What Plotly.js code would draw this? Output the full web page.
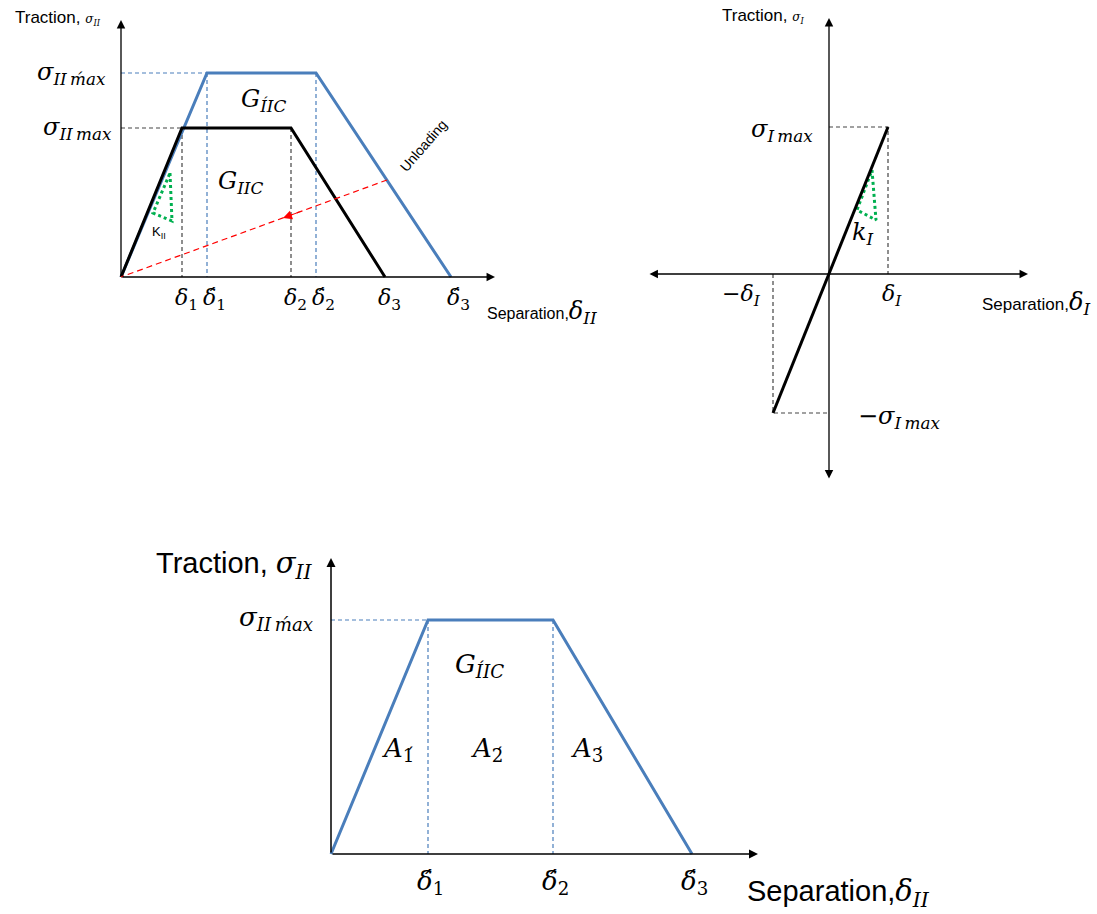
<!DOCTYPE html>
<html><head><meta charset="utf-8">
<script src="https://cdn.plot.ly/plotly-3.0.1.min.js"></script>
<style>html,body{margin:0;padding:0;background:#fff}</style>
</head><body><div id="chart" style="width:1097px;height:914px"></div>
<script>
// ---------- Panel A: mode II traction–separation (original and modified) ----------
const sepII   = [0, 61, 170, 264];   // 0, δ1, δ2, δ3
const tracII  = [0, 149, 149, 0];    // σII max plateau
const sepIIp  = [0, 86, 195, 330];   // 0, δ1', δ2', δ3'
const tracIIp = [0, 204, 204, 0];    // σ'II max plateau
const unloadSep  = [266, 0];
const unloadTrac = [97, 0];
const kIITriSep  = [49, 51, 32, 49];
const kIITriTrac = [104, 56, 64, 104];
const tickValsA  = [61, 86, 170, 195, 264, 330];
const tickNumA   = ['1', '1', '2', '2', '3', '3'];
const tickPrimeA = [false, true, false, true, false, true];

// ---------- Panel B: mode I linear law ----------
const sepI  = [-56, 59];     // −δI, δI
const tracI = [-139, 147];   // −σI max, σI max
const kITriSep  = [43, 47, 28, 43];
const kITriTrac = [104, 54, 64, 104];

// ---------- Panel C: modified mode II law ----------
const sepC  = [0, 97, 222, 361];   // 0, δ1', δ2', δ3'
const tracC = [0, 234, 234, 0];    // σ'II max
const areaLabels = ['1', '2', '3'];

const BLUE = '#4a7ebb', BLACK = '#000', GUIDE = '#444', GREEN = '#00b050';
const SANS = 'Liberation Sans, Arial, sans-serif';
const MATH = 'DejaVu Serif, serif';
const TH = '\u2009', AC = '\u0301';

function line(x, y, ax, color, width, dash) {
  return {x, y, xaxis: 'x' + ax, yaxis: 'y' + ax, mode: 'lines', hoverinfo: 'skip',
          line: {color, width, dash: dash || 'solid'}};
}
const GD = '4px,3px';
function guideH(xv, yv, ax, color) { return line([0, xv], [yv, yv], ax, color, 1.2, GD); }
function guideV(xv, yv, ax, color) { return line([xv, xv], [yv, 0], ax, color, 1.2, GD); }

const traces = [
  // Panel A
  guideH(sepIIp[1], tracIIp[1], '', BLUE),
  guideV(sepIIp[1], tracIIp[1], '', BLUE),
  guideV(sepIIp[2], tracIIp[2], '', BLUE),
  guideH(sepII[1], tracII[1], '', GUIDE),
  guideV(sepII[1], tracII[1], '', GUIDE),
  guideV(sepII[2], tracII[2], '', GUIDE),
  line(sepIIp, tracIIp, '', BLUE, 3),
  line(kIITriSep, kIITriTrac, '', GREEN, 3, 'dot'),
  line(sepII, tracII, '', BLACK, 3),
  line(unloadSep, unloadTrac, '', 'red', 1.2, '6px,4px'),
  // Panel B
  line([0, sepI[1], sepI[1]], [tracI[1], tracI[1], 0], '2', GUIDE, 1.2, GD),
  line([sepI[0], sepI[0], 0], [0, tracI[0], tracI[0]], '2', GUIDE, 1.2, GD),
  line(kITriSep, kITriTrac, '2', GREEN, 3, 'dot'),
  line(sepI, tracI, '2', BLACK, 3),
  // Panel C
  guideH(sepC[1], tracC[1], '3', BLUE),
  guideV(sepC[1], tracC[1], '3', BLUE),
  guideV(sepC[2], tracC[2], '3', BLUE),
  line(sepC, tracC, '3', BLUE, 3),
];

function arrow(ax, x, y, tx, ty, opts) {
  return Object.assign({xref: 'x' + ax, yref: 'y' + ax, axref: 'x' + ax, ayref: 'y' + ax,
    x, y, ax: tx, ay: ty, text: '', showarrow: true, arrowhead: 2, arrowsize: 1.3,
    arrowwidth: 1.3, arrowcolor: '#000', standoff: 0, startstandoff: 0}, opts || {});
}
function txt(ax, x, y, text, size, family, opts) {
  return Object.assign({xref: 'x' + ax, yref: 'y' + ax, x, y, text, showarrow: false,
    font: {size, family, color: '#000'}, xanchor: 'center', yanchor: 'middle'}, opts || {});
}
// σ labels; primed version carries the acute over "max"
const sig = (sub, p) => `<i>σ<sub>${sub}${TH}${p ? 'm' + AC + 'ax' : 'max'}</sub></i>`;
const dl = (n, p) => `<i>δ${p ? AC : ''}</i><sub>${n}</sub>`;
const small = (t) => `<span style="font-family:DejaVu Serif;font-size:12px"><i>${t}</i></span>`;
const gIIC = (p) => `<i>G<sub>${p ? 'I' + AC : 'I'}IC</sub></i>`;

const annotations = [
  // Panel A axes
  arrow('', 0, 257, 0, 0),
  arrow('', 374, 0, 0, 0),
  arrow('', 162, 59, 180, 65.6, {arrowcolor: 'red', arrowwidth: 1, arrowsize: 1.8}),
  txt('', -63, 259, `Traction, ${small('σ<sub>II</sub>')}`, 17, SANS),
  txt('', 0, tracIIp[1], sig('II', true), 24, MATH, {xanchor: 'right', xshift: -13}),
  txt('', 0, tracII[1], sig('II'), 24, MATH, {xanchor: 'right', xshift: -7}),
  txt('', 142, 177, gIIC(true), 24, MATH),
  txt('', 119, 95, gIIC(false), 24, MATH),
  txt('', 38, 45, 'K<sub>II</sub>', 13, SANS),
  txt('', 302, 131, 'Unloading', 14, SANS, {textangle: -49}),
  txt('', 364, -35, `Separation,<span style="font-family:DejaVu Serif;font-size:24px"><i>δ<sub>II</sub></i></span>`, 16, SANS, {xanchor: 'left'}),
  ...tickValsA.map((v, i) => txt('', v, 0, dl(tickNumA[i], tickPrimeA[i]), 22, MATH, {yshift: -22, xshift: tickPrimeA[i] ? 7 : 4})),
  // Panel B
  arrow('2', 199, 0, -181, 0, {arrowside: 'end+start'}),
  arrow('2', 0, 256, 0, -206, {arrowside: 'end+start'}),
  txt('2', -66, 258, `Traction, ${small('σ<sub>I</sub>')}`, 17, SANS),
  txt('2', 0, tracI[1], sig('I'), 24, MATH, {xanchor: 'right', xshift: -14, yshift: -3}),
  txt('2', 0, tracI[0], '−' + sig('I'), 24, MATH, {xanchor: 'left', xshift: 27, yshift: -4}),
  txt('2', 34, 41, '<i>k<sub>I</sub></i>', 24, MATH),
  txt('2', sepI[1], 0, dl('<i>I</i>'), 22, MATH, {yshift: -21, xshift: 4}),
  txt('2', sepI[0], 0, '−' + dl('<i>I</i>'), 22, MATH, {yshift: -21, xanchor: 'right', xshift: -10}),
  txt('2', 151, -29, `Separation,<span style="font-family:DejaVu Serif;font-size:24px"><i>δ<sub>I</sub></i></span>`, 17, SANS, {xanchor: 'left'}),
  // Panel C
  arrow('3', 0, 296, 0, 0, {arrowwidth: 1.5, arrowsize: 1.2}),
  arrow('3', 427, 0, 0, 0, {arrowwidth: 1.5, arrowsize: 1.2}),
  txt('3', 0, 289, `Traction, <span style="font-family:DejaVu Serif"><i>σ<sub>II</sub></i></span>`, 29, SANS, {xanchor: 'right', xshift: -16}),
  txt('3', 0, tracC[1], sig('II', true), 26, MATH, {xanchor: 'right', xshift: -16, yshift: 2}),
  txt('3', 148, 189, gIIC(true), 26, MATH),
  ...areaLabels.map((n, i) => txt('3', [67, 156, 256][i], 105, `<i>A</i><sub>${n}${AC}</sub>`, 26, MATH)),
  ...[1, 2, 3].map(i => txt('3', sepC[i], 0, dl(i, true), 26, MATH, {yshift: -28, xshift: 2})),
  txt('3', 414, -39, `Separation,<span style="font-family:DejaVu Serif"><i>δ<sub>II</sub></i></span>`, 29, SANS, {xanchor: 'left'}),
];

const W = 1097, H = 914;
const ax = (r) => ({range: r, visible: false, domain: [0, 1], fixedrange: true});
const layout = {
  width: W, height: H, margin: {l: 0, r: 0, t: 0, b: 0},
  paper_bgcolor: '#fff', plot_bgcolor: 'rgba(0,0,0,0)', showlegend: false,
  xaxis: Object.assign(ax([-121, W - 121]), {anchor: 'y'}),
  yaxis: Object.assign(ax([277 - H, 277]), {anchor: 'x'}),
  xaxis2: Object.assign(ax([-829, W - 829]), {anchor: 'y2'}),
  yaxis2: Object.assign(ax([274 - H, 274]), {anchor: 'x2'}),
  xaxis3: Object.assign(ax([-331, W - 331]), {anchor: 'y3'}),
  yaxis3: Object.assign(ax([854 - H, 854]), {anchor: 'x3'}),
  annotations,
};
Plotly.newPlot('chart', traces, layout, {staticPlot: true, displayModeBar: false});
</script></body></html>
